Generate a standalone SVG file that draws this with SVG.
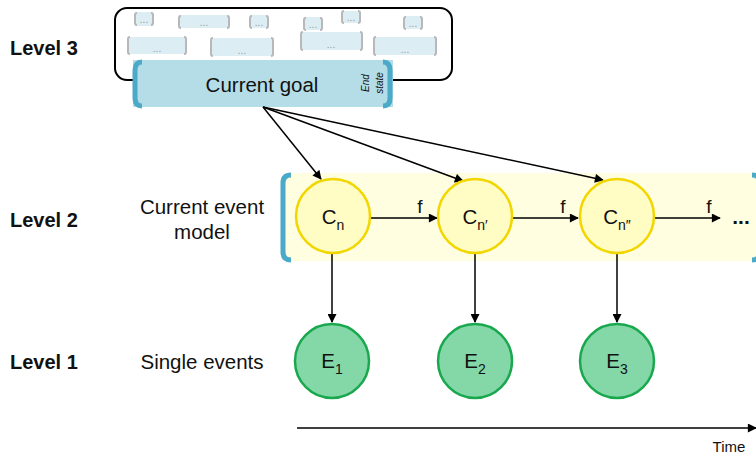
<svg xmlns="http://www.w3.org/2000/svg" width="756" height="456" viewBox="0 0 756 456">
<defs>
<marker id="ah" viewBox="0 0 10 10" refX="9" refY="5" markerWidth="10" markerHeight="9" markerUnits="userSpaceOnUse" orient="auto">
<path d="M0,0 L10,5 L0,10 z" fill="#000"/>
</marker>
<style>
text{font-family:"Liberation Sans",Arial,sans-serif;fill:#111}
.lvl{font-size:20px;font-weight:bold}
.lab{font-size:20.5px;text-anchor:middle}
.sm{fill:#dcedf4;stroke:none}
.br{fill:none;stroke:#b8b8b8;stroke-width:2}
.dots{font-size:10px;fill:#999;text-anchor:middle}
.blue{fill:none;stroke:#4aaac8;stroke-width:5;stroke-linecap:butt}
.cc{fill:#fffcc4;stroke:#f2d600;stroke-width:2.5}
.ec{fill:#84d8a8;stroke:#19a84e;stroke-width:2.5}
.conn{stroke:#000;stroke-width:1.5;fill:none;marker-end:url(#ah)}
.nl{font-size:20.5px;text-anchor:middle}
</style>
</defs>
<rect width="756" height="456" fill="#fff"/>

<g id="levels">
<text class="lvl" x="10" y="55">Level 3</text>
<text class="lvl" x="10" y="227">Level 2</text>
<text class="lvl" x="10" y="369">Level 1</text>
<text class="lab" x="202" y="214">Current event</text>
<text class="lab" x="202" y="239">model</text>
<text class="lab" x="202" y="369">Single events</text>
</g>

<g id="goal-space">
<rect x="115" y="8" width="337" height="72" rx="12" fill="#fff" stroke="#000" stroke-width="2"/>
<g id="subgoals">
<rect class="sm" x="135" y="12" width="18" height="14"/><path class="br" d="M137,13 Q135,13 135,15 L135,23 Q135,25 137,25 M151,13 Q153,13 153,15 L153,23 Q153,25 151,25"/><text class="dots" x="144" y="23">...</text>
<rect class="sm" x="179" y="15" width="50" height="13"/><path class="br" d="M181,16 Q179,16 179,18 L179,26 Q179,28 181,28 M227,16 Q229,16 229,18 L229,26 Q229,28 227,28"/><text class="dots" x="204" y="26">...</text>
<rect class="sm" x="250" y="15" width="18" height="13"/><path class="br" d="M252,16 Q250,16 250,18 L250,26 Q250,28 252,28 M266,16 Q268,16 268,18 L268,26 Q268,28 266,28"/><text class="dots" x="259" y="26">...</text>
<rect class="sm" x="304" y="17" width="18" height="13"/><path class="br" d="M306,18 Q304,18 304,20 L304,28 Q304,30 306,30 M320,18 Q322,18 322,20 L322,28 Q322,30 320,30"/><text class="dots" x="313" y="28">...</text>
<rect class="sm" x="342" y="11" width="18" height="12"/><path class="br" d="M344,11 Q342,11 342,13 L342,21 Q342,23 344,23 M358,11 Q360,11 360,13 L360,21 Q360,23 358,23"/><text class="dots" x="351" y="21">...</text>
<rect class="sm" x="404" y="16" width="18" height="13"/><path class="br" d="M406,17 Q404,17 404,19 L404,27 Q404,29 406,29 M420,17 Q422,17 422,19 L422,27 Q422,29 420,29"/><text class="dots" x="413" y="27">...</text>
<rect class="sm" x="128" y="37" width="58" height="17"/><path class="br" d="M130,37 Q128,37 128,39 L128,52 Q128,54 130,54 M184,37 Q186,37 186,39 L186,52 Q186,54 184,54"/><text class="dots" x="157" y="52">...</text>
<rect class="sm" x="211" y="38" width="62" height="18"/><path class="br" d="M213,38 Q211,38 211,40 L211,54 Q211,56 213,56 M271,38 Q273,38 273,40 L273,54 Q273,56 271,56"/><text class="dots" x="242" y="54">...</text>
<rect class="sm" x="301" y="32" width="61" height="18"/><path class="br" d="M303,32 Q301,32 301,34 L301,48 Q301,50 303,50 M360,32 Q362,32 362,34 L362,48 Q362,50 360,50"/><text class="dots" x="331" y="48">...</text>
<rect class="sm" x="374" y="37" width="62" height="18"/><path class="br" d="M376,37 Q374,37 374,39 L374,53 Q374,55 376,55 M434,37 Q436,37 436,39 L436,53 Q436,55 434,55"/><text class="dots" x="405" y="53">...</text>
</g>
</g>

<g id="current-goal">
<rect x="133" y="60" width="260" height="47" fill="#b5dde8"/>
<path class="blue" d="M142,62 Q135,62 135,70 L135,98 Q135,106 142,106"/>
<path class="blue" d="M383,62 Q390,62 390,70 L390,98 Q390,106 383,106"/>
<text class="nl" x="262" y="92">Current goal</text>
<text transform="translate(369,83) rotate(-90)" font-size="10" font-style="italic" text-anchor="middle">End</text>
<text transform="translate(383,83) rotate(-90)" font-size="10" font-style="italic" text-anchor="middle">state</text>
</g>

<g id="event-model-band">
<rect x="285" y="173" width="471" height="88" fill="#fffee0"/>
<path class="blue" d="M291,175 Q283,175 283,183 L283,252 Q283,260 291,260"/>
<path class="blue" d="M752,175 Q760,175 760,183 L760,252 Q760,260 752,260"/>
</g>

<g id="connectors">
<line class="conn" x1="263" y1="107" x2="321" y2="179"/>
<line class="conn" x1="263" y1="107" x2="463" y2="181"/>
<line class="conn" x1="263" y1="107" x2="603" y2="180"/>
<line class="conn" x1="370" y1="218" x2="437" y2="218"/>
<line class="conn" x1="513" y1="218" x2="578" y2="218"/>
<line class="conn" x1="655" y1="218" x2="720" y2="218"/>
<line class="conn" x1="332" y1="254" x2="332" y2="322"/>
<line class="conn" x1="475" y1="254" x2="475" y2="322"/>
<line class="conn" x1="617" y1="254" x2="617" y2="322"/>
<line class="conn" x1="297" y1="428" x2="756" y2="428"/>
<text x="420" y="213" font-size="19" text-anchor="middle">f</text>
<text x="563" y="213" font-size="19" text-anchor="middle">f</text>
<text x="709" y="213" font-size="19" text-anchor="middle">f</text>
<text x="741" y="224" font-size="21" font-weight="bold" text-anchor="middle">...</text>
<text x="729" y="452" font-size="15" text-anchor="middle">Time</text>
</g>

<g id="Cn"><circle class="cc" cx="333" cy="216" r="37"/><text class="nl" x="333" y="224">C<tspan font-size="14" dy="6">n</tspan></text></g>
<g id="Cn1"><circle class="cc" cx="475" cy="216" r="37"/><text class="nl" x="475" y="224">C<tspan font-size="14" dy="6">n′</tspan></text></g>
<g id="Cn2"><circle class="cc" cx="617" cy="216" r="37"/><text class="nl" x="617" y="224">C<tspan font-size="14" dy="6">n″</tspan></text></g>

<g id="E1"><circle class="ec" cx="332" cy="361" r="37"/><text class="nl" x="332" y="368">E<tspan font-size="14" dy="6">1</tspan></text></g>
<g id="E2"><circle class="ec" cx="475" cy="361" r="37"/><text class="nl" x="475" y="368">E<tspan font-size="14" dy="6">2</tspan></text></g>
<g id="E3"><circle class="ec" cx="617" cy="361" r="37"/><text class="nl" x="617" y="368">E<tspan font-size="14" dy="6">3</tspan></text></g>
</svg>
